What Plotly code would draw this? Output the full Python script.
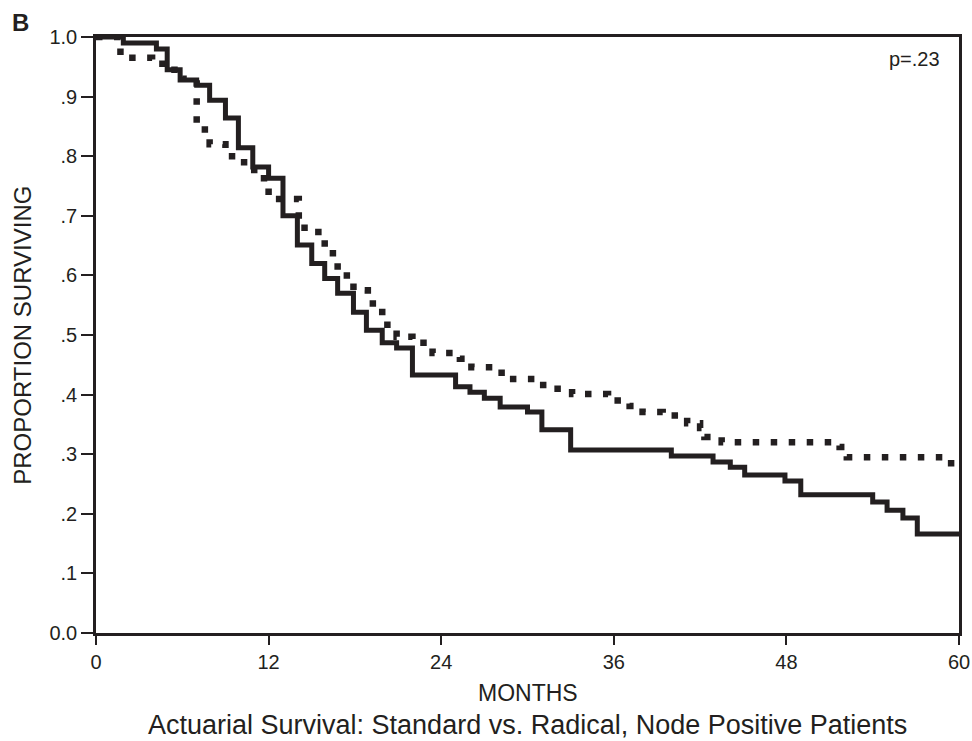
import plotly.graph_objects as go

# Solid curve (step function) – months and survival proportion
solid_t = [0, 1.9, 4.2, 4.95, 5.85, 7.0, 7.9, 9.0, 9.9, 10.9, 12.0, 13.0, 14.0, 15.0,
           15.9, 16.8, 17.9, 18.8, 19.9, 20.9, 22.0, 25.0, 26.0, 27.0, 28.1, 30.0,
           31.0, 33.0, 40.0, 42.9, 44.1, 45.1, 47.9, 49.0, 54.0, 55.0, 56.1, 57.1, 60]
solid_s = [1.0, 0.99, 0.98, 0.945, 0.928, 0.919, 0.894, 0.864, 0.814, 0.782, 0.763, 0.70,
           0.651, 0.62, 0.595, 0.57, 0.538, 0.508, 0.487, 0.478, 0.433, 0.413, 0.404,
           0.394, 0.379, 0.371, 0.341, 0.307, 0.297, 0.287, 0.278, 0.265, 0.255, 0.232,
           0.22, 0.206, 0.193, 0.166, 0.166]

# Dotted curve (step function)
dot_t = [0, 1.7, 3.9, 5.0, 6.0, 7.0, 7.9, 9.0, 10.0, 11.0, 12.0, 14.1, 15.0, 15.9, 16.8,
         17.9, 18.9, 19.9, 20.9, 22.0, 23.4, 25.3, 26.1, 28.2, 30.5, 31.4, 33.1, 35.6,
         37.1, 38.0, 39.4, 41.1, 42.0, 42.3, 43.5, 51.7, 52.2, 58.9, 60]
dot_s = [1.0, 0.965, 0.955, 0.945, 0.93, 0.845, 0.82, 0.80, 0.79, 0.763, 0.728, 0.68,
         0.673, 0.637, 0.60, 0.575, 0.553, 0.517, 0.497, 0.487, 0.47, 0.46, 0.446, 0.426,
         0.416, 0.41, 0.401, 0.39, 0.381, 0.371, 0.365, 0.352, 0.344, 0.329, 0.32, 0.312,
         0.295, 0.285, 0.285]

x_ticks = [0, 12, 24, 36, 48, 60]
y_ticks = [0, 0.1, 0.2, 0.3, 0.4, 0.5, 0.6, 0.7, 0.8, 0.9, 1.0]
y_labels = ["0.0", ".1", ".2", ".3", ".4", ".5", ".6", ".7", ".8", ".9", "1.0"]

INK = "#231f20"
FONT = "Liberation Sans, Arial, sans-serif"

fig = go.Figure()
fig.add_trace(go.Scatter(x=dot_t, y=dot_s, mode="lines", line_shape="hv",
                         line=dict(color=INK, width=6.5, dash="6.5px,11.5px"),
                         showlegend=False, hoverinfo="skip"))
fig.add_trace(go.Scatter(x=solid_t, y=solid_s, mode="lines", line_shape="hv",
                         line=dict(color=INK, width=5),
                         showlegend=False, hoverinfo="skip"))

fig.update_layout(
    width=972, height=741,
    margin=dict(l=96, r=13, t=37, b=108),
    plot_bgcolor="white", paper_bgcolor="white",
    font=dict(family=FONT, size=20, color=INK),
    xaxis=dict(range=[0, 60], tickvals=x_ticks, ticktext=[str(v) for v in x_ticks],
               ticks="outside", ticklen=9, tickwidth=2, tickcolor=INK,
               showline=True, linecolor=INK, linewidth=2.5, mirror=True,
               showgrid=False, zeroline=False, automargin=False,
               tickfont=dict(size=20)),
    yaxis=dict(range=[0, 1.0], tickvals=y_ticks, ticktext=y_labels,
               ticks="outside", ticklen=12, tickwidth=2, tickcolor=INK,
               showline=True, linecolor=INK, linewidth=2.5, mirror=True,
               showgrid=False, zeroline=False, automargin=False,
               tickfont=dict(size=20)),
    annotations=[
        dict(text="<b>B</b>", xref="paper", yref="paper", x=-0.0875, y=1.0243,
             xanchor="center", yanchor="middle", showarrow=False, font=dict(size=24)),
        dict(text="p=.23", xref="paper", yref="paper", x=0.9484, y=0.963,
             xanchor="center", yanchor="middle", showarrow=False, font=dict(size=20)),
        dict(text="MONTHS", xref="paper", yref="paper", x=0.5, y=-0.1007,
             xanchor="center", yanchor="middle", showarrow=False, font=dict(size=23)),
        dict(text="PROPORTION SURVIVING", xref="paper", yref="paper", x=-0.086, y=0.5,
             xanchor="center", yanchor="middle", textangle=-90, showarrow=False,
             font=dict(size=24)),
        dict(text="Actuarial Survival: Standard vs. Radical, Node Positive Patients",
             xref="paper", yref="paper", x=0.5, y=-0.154,
             xanchor="center", yanchor="middle", showarrow=False, font=dict(size=27)),
    ],
)

fig.write_html("out.html")
